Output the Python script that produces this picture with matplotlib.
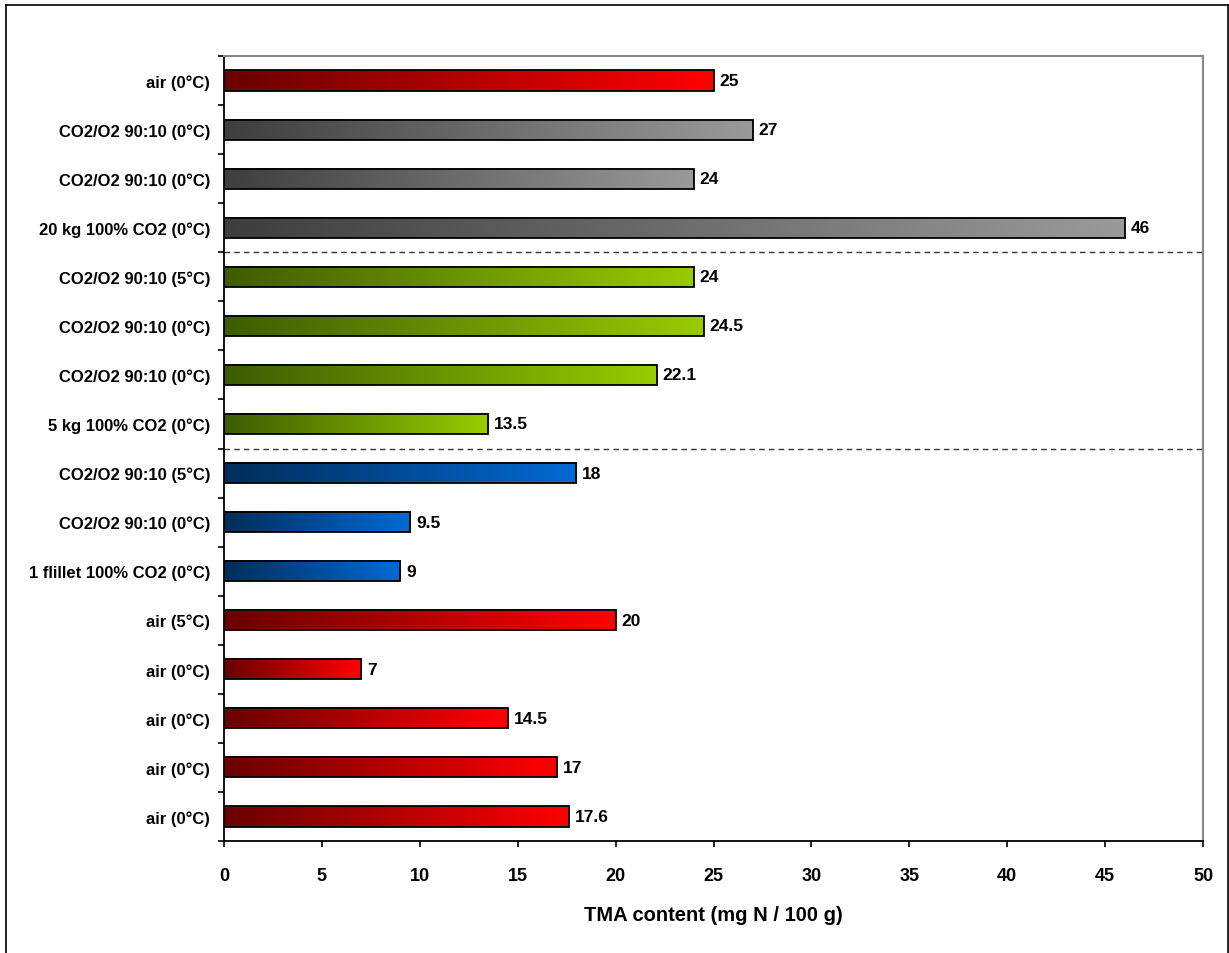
import numpy as np
import matplotlib.pyplot as plt
from matplotlib.colors import LinearSegmentedColormap
from matplotlib.lines import Line2D

# data, top to bottom
labels = ["air (0°C)", "CO2/O2 90:10 (0°C)", "CO2/O2 90:10 (0°C)", "20 kg 100% CO2 (0°C)",
          "CO2/O2 90:10 (5°C)", "CO2/O2 90:10 (0°C)", "CO2/O2 90:10 (0°C)", "5 kg 100% CO2 (0°C)",
          "CO2/O2 90:10 (5°C)", "CO2/O2 90:10 (0°C)", "1 flillet 100% CO2 (0°C)",
          "air (5°C)", "air (0°C)", "air (0°C)", "air (0°C)", "air (0°C)"]
values = [25, 27, 24, 46, 24, 24.5, 22.1, 13.5, 18, 9.5, 9, 20, 7, 14.5, 17, 17.6]
value_text = ["25", "27", "24", "46", "24", "24.5", "22.1", "13.5", "18", "9.5", "9",
              "20", "7", "14.5", "17", "17.6"]
groups = ["red", "gray", "gray", "gray", "green", "green", "green", "green",
          "blue", "blue", "blue", "red", "red", "red", "red", "red"]
separators = [3.5, 7.5]

gradients = {
    "red": ("#6a0000", "#ff0000"),
    "gray": ("#3e3e3e", "#9a9a9a"),
    "green": ("#3d5c00", "#99cc00"),
    "blue": ("#002d5a", "#006ad4"),
}

plt.rcParams['font.family'] = ['Liberation Sans', 'DejaVu Sans']
plt.rcParams['font.weight'] = 'bold'

fig = plt.figure(figsize=(12.29, 9.54), dpi=100)
ax = fig.add_axes([224/1229, 1 - 842/954, (1203-224)/1229, (842-57)/954])

h = 0.41
ypos = np.arange(len(values))
grad = np.linspace(0, 1, 256).reshape(1, -1)

for y, v, g, t in zip(ypos, values, groups, value_text):
    cmap = LinearSegmentedColormap.from_list(g, gradients[g])
    ax.imshow(grad, cmap=cmap, aspect='auto', extent=(0, v, y + h/2, y - h/2),
              zorder=2, interpolation='bicubic')
    ax.barh(y, v, height=h, facecolor='none', edgecolor='black', linewidth=1.3, zorder=3)
    ax.text(v + 0.3, y, t, va='center', ha='left', fontsize=12.5, fontweight='bold')

for s in separators:
    ax.axhline(s, color='#333333', linestyle=(0, (4, 3)), linewidth=1, zorder=1)

ax.set_xlim(0, 50)
ax.set_ylim(len(values) - 0.5, -0.5)
ax.set_xticks(np.arange(0, 51, 5))
ax.set_yticks(np.arange(-0.5, len(values), 1))
ax.set_yticklabels([])
ax.set_yticks(ypos, minor=True)
ax.set_yticklabels(labels, minor=True, fontsize=12, fontweight='bold')
ax.tick_params(axis='y', which='minor', length=0, pad=10)
ax.tick_params(axis='y', which='major', direction='out', length=4, width=1.2)
ax.tick_params(axis='x', direction='out', length=4.5, width=1.2, labelsize=13, pad=14)
for lbl in ax.get_xticklabels():
    lbl.set_fontweight('bold')

for side in ['left', 'bottom']:
    ax.spines[side].set_color('black')
    ax.spines[side].set_linewidth(1.3)
for side in ['top', 'right']:
    ax.spines[side].set_color('#888888')
    ax.spines[side].set_linewidth(1.5)

ax.set_xlabel("TMA content (mg N / 100 g)", fontsize=14.5, fontweight='bold')
ax.xaxis.set_label_coords(0.5, -0.081)

# outer frame
x0, x1, yt = 6/1229, 1227.5/1229, 1 - 6/954
for xs, ys in [([x0, x0], [0, yt]), ([x0, x1], [yt, yt]), ([x1, x1], [yt, 0])]:
    fig.add_artist(Line2D(xs, ys, color='black', linewidth=1.2, transform=fig.transFigure))

fig.savefig("out.png", dpi=100)
